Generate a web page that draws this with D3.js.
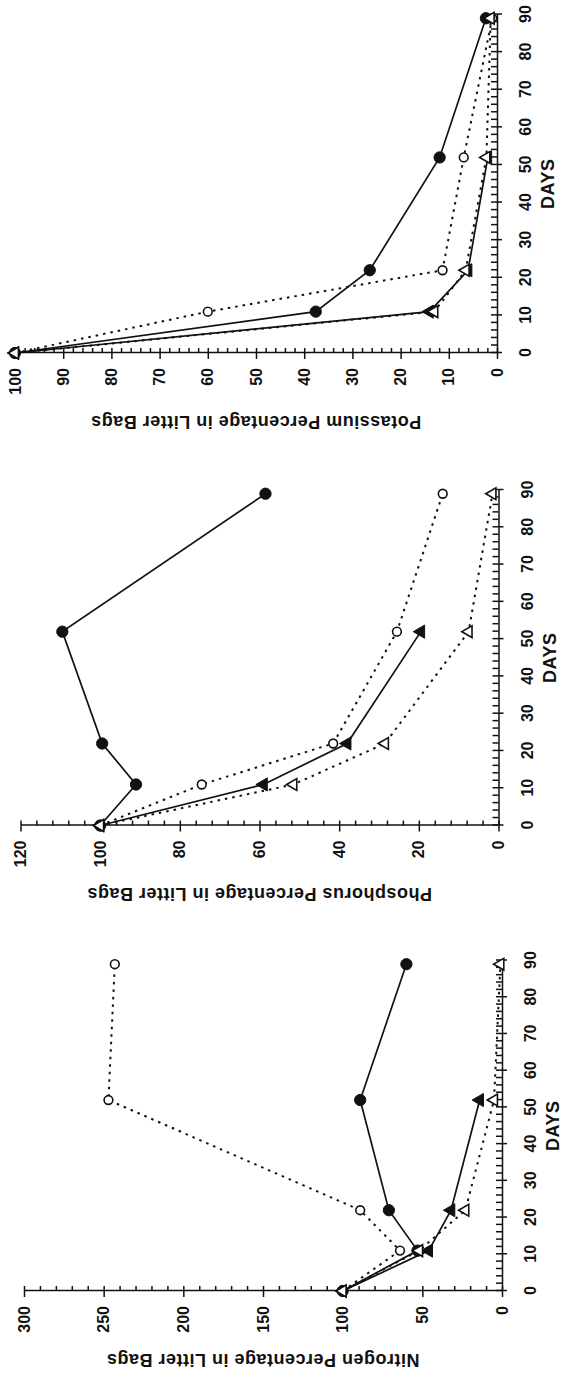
<!DOCTYPE html>
<html lang="en">

<head>
    <meta charset="UTF-8">
    <title>Nutrient loss in litter bags</title>
    <script src="https://cdn.jsdelivr.net/npm/d3@7"></script>
    <style>
        body { margin: 0; background: #fff; }
        svg { display: block; font-family: "Liberation Sans", Arial, sans-serif; }
    </style>
</head>

<body>
    <svg id="chart"></svg>

    <script>
        // sampling days (shared by every series)
        const days = [0, 11, 22, 52, 89]
        const dayTicks = [0, 10, 20, 30, 40, 50, 60, 70, 80, 90]

        // Potassium
        const kFilledCircle = [100, 37.6, 26.4, 11.9, 2.3]
        const kOpenCircle = [100, 60, 11.3, 6.9, 1.0]
        const kFilledTriangle = [100, 14, 6, 1.9, null]
        const kOpenTriangle = [100, 13, 6.5, 2.2, 1.3]
        const kTicks = [0, 10, 20, 30, 40, 50, 60, 70, 80, 90, 100]

        // Phosphorus
        const pFilledCircle = [100, 91, 99.5, 109.5, 58.5]
        const pOpenCircle = [100, 74.5, 41.5, 25.5, 14]
        const pFilledTriangle = [100, 59, 38, 19.5, null]
        const pOpenTriangle = [100, 51.5, 28.5, 7.5, 1.5]
        const pTicks = [0, 20, 40, 60, 80, 100, 120]

        // Nitrogen
        const nFilledCircle = [100, 53, 71, 89, 60]
        const nOpenCircle = [100, 64, 89, 247, 243]
        const nFilledTriangle = [100, 46, 32, 14, null]
        const nOpenTriangle = [100, 52, 23, 5, 1]
        const nTicks = [0, 50, 100, 150, 200, 250, 300]

        const width = 567
        const height = 1375

        const svg = d3.select('#chart')
            .attr('width', width)
            .attr('height', height)

        // the page is the original figure turned a quarter turn to the left,
        // so each panel is drawn normally and then rotated
        const panels = [
            { title: 'Potassium Percentage in Litter Bags', ticks: kTicks, minor: 2,
              series: [kFilledCircle, kOpenCircle, kFilledTriangle, kOpenTriangle],
              left: 15, right: 497, bottom: 353, top: 14.5 },
            { title: 'Phosphorus Percentage in Litter Bags', ticks: pTicks, minor: 4,
              series: [pFilledCircle, pOpenCircle, pFilledTriangle, pOpenTriangle],
              left: 20.5, right: 498.5, bottom: 825.5, top: 490 },
            { title: 'Nitrogen Percentage in Litter Bags', ticks: nTicks, minor: 10,
              series: [nFilledCircle, nOpenCircle, nFilledTriangle, nOpenTriangle],
              left: 24, right: 502, bottom: 1291, top: 960.5 },
        ]

        const styles = [
            { shape: 'circle', filled: true, dash: null },
            { shape: 'circle', filled: false, dash: '2.5,5' },
            { shape: 'triangle', filled: true, dash: null },
            { shape: 'triangle', filled: false, dash: '2.5,5' },
        ]

        const ink = '#111'

        const styleText = sel => sel
            .attr('font-family', null)
            .attr('font-size', 16)
            .attr('font-weight', 'bold')

        panels.forEach(p => {
            const W = p.bottom - p.top   // days length
            const H = p.right - p.left   // percentage length
            const yMax = p.ticks[p.ticks.length - 1]

            const g = svg.append('g')
                .attr('transform', `translate(${p.left},${p.bottom}) rotate(-90)`)

            const x = d3.scaleLinear().domain([0, 90]).range([0, W])
            const y = d3.scaleLinear().domain([0, yMax]).range([H, 0])

            // days axis
            const xg = g.append('g').attr('transform', `translate(0,${H})`)
            xg.call(d3.axisBottom(x).tickValues(dayTicks).tickSize(5).tickSizeOuter(0).tickPadding(18))
                .call(styleText)
            xg.append('g')
                .call(d3.axisBottom(x).tickValues(d3.range(0, 91, 2)).tickSize(-6).tickFormat(''))
                .call(a => a.select('.domain').remove())
            xg.selectAll('line, path').attr('stroke', ink).attr('stroke-width', 1.5)
            xg.selectAll('text').attr('fill', ink)

            // percentage axis
            const yg = g.append('g')
            yg.call(d3.axisLeft(y).tickValues(p.ticks).tickSize(6).tickSizeOuter(0).tickPadding(9))
                .call(styleText)
            yg.append('g')
                .call(d3.axisLeft(y).tickValues(d3.range(0, yMax + 0.1, p.minor)).tickSize(-5).tickFormat(''))
                .call(a => a.select('.domain').remove())
            yg.selectAll('line, path').attr('stroke', ink).attr('stroke-width', 1.5)
            yg.selectAll('text').attr('fill', ink)

            // axis titles
            g.append('text')
                .attr('transform', `translate(-69,${H / 2}) rotate(-90)`)
                .attr('text-anchor', 'middle')
                .attr('dy', '0.36em')
                .attr('font-size', 18)
                .attr('font-weight', 'bold')
                .attr('letter-spacing', 0.5)
                .attr('fill', ink)
                .text(p.title)

            g.append('text')
                .attr('x', W / 2)
                .attr('y', H + 51)
                .attr('text-anchor', 'middle')
                .attr('dy', '0.36em')
                .attr('font-size', 18)
                .attr('font-weight', 'bold')
                .attr('letter-spacing', 0.5)
                .attr('fill', ink)
                .text('DAYS')

            const line = d3.line()
                .defined(d => d[1] != null)
                .x(d => x(d[0]))
                .y(d => y(d[1]))

            const rows = p.series.map(vals => days.map((d, i) => [d, vals[i]]))

            // lines first
            rows.forEach((pts, i) => {
                g.append('path')
                    .attr('d', line(pts))
                    .attr('fill', 'none')
                    .attr('stroke', ink)
                    .attr('stroke-width', styles[i].dash ? 2 : 1.7)
                    .attr('stroke-dasharray', styles[i].dash)
            })

            // then markers
            rows.forEach((pts, i) => {
                const s = styles[i]
                const sym = d3.symbol()
                    .type(s.shape === 'circle' ? d3.symbolCircle : d3.symbolTriangle)
                    .size(s.shape === 'circle' ? (s.filled ? 100 : 60) : (s.filled ? 75 : 60))

                g.append('g').selectAll('path')
                    .data(pts.filter(d => d[1] != null))
                    .join('path')
                    .attr('transform', d => `translate(${x(d[0])},${y(d[1])})`)
                    .attr('d', sym)
                    .attr('fill', s.filled ? ink : '#fff')
                    .attr('stroke', ink)
                    .attr('stroke-width', s.filled ? 1 : 1.6)
            })
        })
    </script>
</body>

</html>
